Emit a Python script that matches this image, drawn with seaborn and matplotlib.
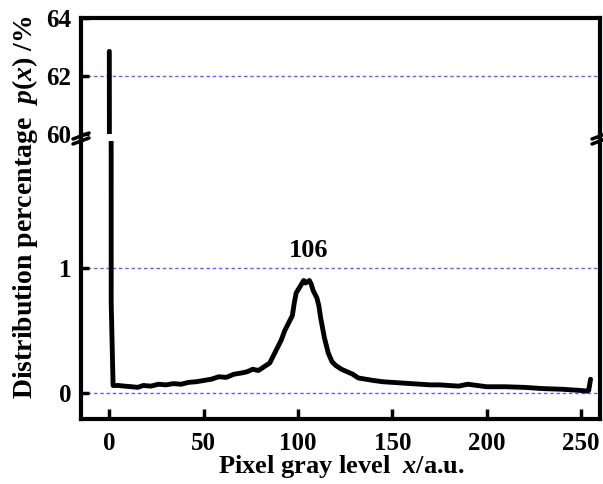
import numpy as np
import pandas as pd
import matplotlib
matplotlib.use('Agg')
import matplotlib.pyplot as plt
from matplotlib.lines import Line2D
import seaborn as sns

# gray level histogram
gray_level = [0, 1, 2, 5, 8, 12, 15, 18, 22, 26, 30, 34, 38, 42, 46, 50, 54, 58, 62,
              66, 70, 73, 76, 79, 82, 85, 87, 89, 91, 93, 95, 97, 98, 99, 101, 103,
              104, 105, 106, 107, 108, 110, 111, 112, 113, 114, 116, 118, 120, 123,
              126, 129, 132, 136, 140, 145, 150, 155, 160, 165, 170, 175, 180, 185,
              190, 195, 200, 210, 220, 230, 240, 250, 253, 254, 255]
percentage = [62.85, 0.72, 0.06, 0.06, 0.055, 0.05, 0.045, 0.06, 0.055, 0.07, 0.065,
              0.075, 0.07, 0.085, 0.09, 0.10, 0.11, 0.13, 0.125, 0.15, 0.16, 0.17,
              0.19, 0.18, 0.21, 0.24, 0.30, 0.36, 0.42, 0.50, 0.56, 0.62, 0.72, 0.80,
              0.85, 0.90, 0.88, 0.89, 0.90, 0.87, 0.82, 0.76, 0.70, 0.60, 0.52, 0.44,
              0.32, 0.25, 0.22, 0.19, 0.17, 0.15, 0.12, 0.11, 0.10, 0.09, 0.085, 0.08,
              0.075, 0.07, 0.065, 0.065, 0.06, 0.055, 0.07, 0.06, 0.05, 0.05, 0.045,
              0.035, 0.03, 0.02, 0.015, 0.02, 0.11]
upper_ticks = [60, 62, 64]
lower_ticks = [0, 1]
x_ticks = [0, 50, 100, 150, 200, 250]
peak_label = '106'

df = pd.DataFrame({'x': gray_level, 'p': percentage})

sns.set_style('ticks')
plt.rcParams['font.family'] = ['Liberation Serif', 'DejaVu Serif']
plt.rcParams['font.weight'] = 'bold'
plt.rcParams['mathtext.fontset'] = 'custom'
plt.rcParams['mathtext.rm'] = 'Liberation Serif:bold'
plt.rcParams['mathtext.it'] = 'Liberation Serif:italic:bold'
for k in ('text.color', 'axes.labelcolor', 'xtick.color', 'ytick.color',
          'axes.edgecolor'):
    plt.rcParams[k] = 'black'

W, H = 603, 484
fig = plt.figure(figsize=(W / 100, H / 100), dpi=100)

def fx(px):
    return px / W

def fy(py):
    return 1 - py / H

L, R = 81, 600
ax_up = fig.add_axes([fx(L), fy(134), fx(R) - fx(L), fy(18) - fy(134)])
ax_lo = fig.add_axes([fx(L), fy(419), fx(R) - fx(L), fy(141) - fy(419)])

grid_kw = dict(color='#5c5cff', lw=1.0, ls=(0, (2.5, 2)), zorder=0)
spine_lw = 3.0

for ax in (ax_up, ax_lo):
    sns.lineplot(data=df, x='x', y='p', ax=ax, color='black', lw=3.5,
                 estimator=None, legend=False)
    ax.set_xlim(-15, 260)
    ax.set_xlabel('')
    ax.set_ylabel('')
    for s in ax.spines.values():
        s.set_linewidth(spine_lw)
        s.set_color('black')
    ax.tick_params(direction='in', length=6, width=2.5, labelsize=18, pad=7,
                   colors='black')

ax_up.set_ylim(60, 64)
ax_up.set_yticks(upper_ticks)
ax_up.set_xticks([])
ax_up.spines['bottom'].set_visible(False)
ax_up.axhline(62, **grid_kw)

ax_lo.set_ylim(-0.208, 2.016)
ax_lo.set_yticks(lower_ticks)
ax_lo.set_xticks(x_ticks)
ax_lo.spines['top'].set_visible(False)
ax_lo.tick_params(axis='x', length=7, pad=9)
for yv in lower_ticks:
    ax_lo.axhline(yv, **grid_kw)

for ax in (ax_up, ax_lo):
    for lab in ax.get_xticklabels() + ax.get_yticklabels():
        lab.set_fontweight('bold')

ax_lo.text(105.5, 1.14, peak_label, ha='center', va='center', fontsize=19,
           fontweight='bold', color='black')

# continuous spines across the gap and break marks
for xs in (L, R):
    fig.add_artist(Line2D([fx(xs), fx(xs)], [fy(132), fy(143)], color='black',
                          lw=spine_lw, transform=fig.transFigure))
    for yb in (136, 141):
        fig.add_artist(Line2D([fx(xs - 8), fx(xs + 8)], [fy(yb + 3), fy(yb - 3)],
                              color='black', lw=2.5, transform=fig.transFigure,
                              clip_on=False))

fig.text(fx(25), fy(207), r'Distribution percentage  $p(x)$ /%', rotation=90,
         ha='center', va='center', fontsize=20, fontweight='bold', color='black')
fig.text(fx(341), fy(467), r'Pixel gray level  $x$/a.u.', ha='center',
         va='center', fontsize=19, fontweight='bold', color='black')

fig.savefig('out.png', dpi=100)
